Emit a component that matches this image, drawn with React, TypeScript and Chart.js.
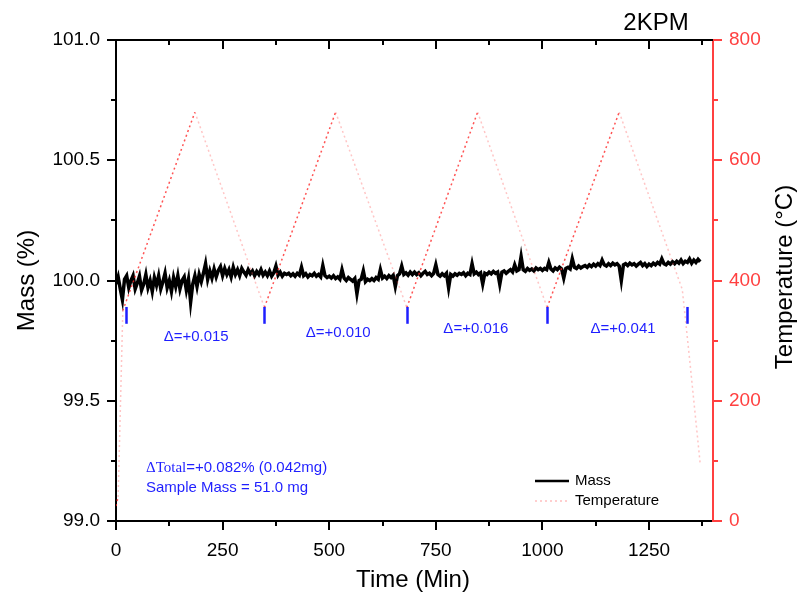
import React, { useEffect, useRef } from "react";
import { Chart, registerables } from "chart.js";
Chart.register(...registerables);

// ---------- data ----------
const MASS_START = 0; // min
const MASS_STEP = 5; // min between samples
const MASS_VALUES = [
  99.985, 100.015, 99.965, 99.92, 100.005, 100.02, 99.97, 100.0, 100.02, 99.965, 99.99, 100.018, 99.96, 99.985, 100.025, 99.97, 100.0, 99.955, 100.012, 99.98,
  100.02, 99.965, 99.995, 100.03, 99.97, 100.0, 99.955, 100.012, 99.975, 100.02, 99.965, 100.0, 100.015, 99.96, 100.005, 99.91, 99.985, 100.02, 99.975, 100.025,
  99.995, 100.03, 100.07, 100.005, 100.04, 100.01, 100.048, 100.015, 100.042, 100.058, 100.02, 100.05, 100.025, 100.045, 100.015, 100.055, 100.025, 100.045, 100.02, 100.05,
  100.035, 100.022, 100.045, 100.028, 100.04, 100.02, 100.038, 100.025, 100.045, 100.022, 100.035, 100.02, 100.04, 100.018, 100.032, 100.06, 100.022, 100.035, 100.018, 100.03,
  100.025, 100.03, 100.02, 100.028, 100.018, 100.03, 100.022, 100.055, 100.02, 100.028, 100.015, 100.025, 100.02, 100.03, 100.018, 100.025, 100.015, 100.062, 100.02, 100.012,
  100.018, 100.01, 100.02, 100.008, 100.015, 100.005, 100.045, 100.01, 100.0, 100.012, 100.005, 99.998, 100.008, 99.945, 100.0, 100.005, 100.04, 99.995, 100.005, 100.0,
  100.008, 100.0, 100.012, 100.005, 100.045, 100.01, 100.018, 100.008, 100.02, 100.012, 100.022, 99.975, 100.02, 100.028, 100.06, 100.025, 100.032, 100.022, 100.035, 100.025,
  100.035, 100.025, 100.032, 100.02, 100.03, 100.038, 100.025, 100.03, 100.02, 100.03, 100.065, 100.025, 100.018, 100.028, 100.02, 100.03, 99.97, 100.025, 100.018, 100.028,
  100.022, 100.03, 100.025, 100.032, 100.02, 100.03, 100.025, 100.07, 100.028, 100.035, 100.025, 100.032, 99.985, 100.03, 100.025, 100.035, 100.028, 100.038, 100.03, 100.035,
  99.985, 100.035, 100.04, 100.03, 100.038, 100.045, 100.035, 100.065, 100.04, 100.045, 100.1, 100.045, 100.038, 100.05, 100.042, 100.048, 100.04, 100.052, 100.045, 100.05,
  100.042, 100.05, 100.045, 100.075, 100.048, 100.04, 100.052, 100.045, 100.055, 100.048, 100.01, 100.05, 100.055, 100.048, 100.09, 100.055, 100.05, 100.06, 100.052, 100.058,
  100.062, 100.055, 100.065, 100.058, 100.068, 100.06, 100.07, 100.062, 100.085, 100.065, 100.06, 100.07, 100.062, 100.072, 100.065, 100.07, 100.06, 100.0, 100.065, 100.07,
  100.062, 100.072, 100.065, 100.07, 100.06, 100.068, 100.075, 100.062, 100.07, 100.058, 100.068, 100.062, 100.072, 100.065, 100.075, 100.068, 100.09, 100.07, 100.065, 100.075,
  100.068, 100.078, 100.07, 100.08, 100.072, 100.085, 100.07, 100.08, 100.075, 100.09, 100.072, 100.085, 100.075, 100.088, 100.078,
];

const TEMP_TIME = [0, 5, 16, 185, 348, 515, 682, 848, 1011, 1180, 1328, 1345, 1370];
const TEMP_VALUES = [25, 40, 350, 680, 355, 680, 355, 680, 355, 680, 385, 270, 95];

const X_TICKS = [0, 250, 500, 750, 1000, 1250];
const X_MINOR = [125, 375, 625, 875, 1125, 1375];
const MASS_TICKS = [99, 99.5, 100, 100.5, 101];
const MASS_MINOR = [99.25, 99.75, 100.25, 100.75];
const TEMP_TICKS = [0, 200, 400, 600, 800];
const TEMP_MINOR = [100, 300, 500, 700];

const STEP_MARK_TIMES = [23, 348, 682, 1011, 1339];
const STEP_MARK_RANGE = [99.82, 99.89];
const DELTA_LABELS = ["Δ=+0.015", "Δ=+0.010", "Δ=+0.016", "Δ=+0.041"];
const DELTA_TIMES = [188, 521, 844, 1189];
const DELTA_MASS = [99.765, 99.782, 99.8, 99.798];

const TITLE = "2KPM";
const X_TITLE = "Time (Min)";
const Y_TITLE = "Mass (%)";
const Y1_TITLE = "Temperature (°C)";
const TOTAL_PREFIX = "ΔTotal";
const TOTAL_REST = "=+0.082% (0.042mg)";
const SAMPLE_TEXT = "Sample Mass = 51.0 mg";
const LEGEND_LABELS = ["Mass", "Temperature"];

const SANS = "Arial, 'Liberation Sans', Helvetica, sans-serif";
const SERIF = "'Times New Roman', 'Liberation Serif', serif";
const RED = "#ff4040";
const BLUE = "#1f1fff";
const TEMP_DARK = "rgba(255,40,40,0.8)";
const TEMP_PALE = "rgba(255,90,90,0.35)";

const decorPlugin = {
  id: "decor",
  afterDraw(chart: any) {
    const ctx = chart.ctx as CanvasRenderingContext2D;
    const { left, right, top, bottom } = chart.chartArea;
    const xs = chart.scales.x;
    const ys = chart.scales.y;
    const y1 = chart.scales.y1;
    ctx.save();
    ctx.lineCap = "butt";
    // top border
    ctx.strokeStyle = "#000";
    ctx.lineWidth = 2;
    ctx.beginPath();
    ctx.moveTo(left - 1, top);
    ctx.lineTo(right, top);
    ctx.stroke();

    const MAJ = 9, MIN = 5;
    const xTick = (v: number, len: number) => {
      const px = Math.round(xs.getPixelForValue(v));
      ctx.beginPath();
      ctx.moveTo(px, bottom);
      ctx.lineTo(px, bottom + len);
      ctx.moveTo(px, top);
      ctx.lineTo(px, top + len);
      ctx.stroke();
    };
    X_TICKS.forEach((v) => xTick(v, MAJ));
    X_MINOR.forEach((v) => { if (v <= xs.max) xTick(v, MIN); });
    const yTick = (v: number, len: number) => {
      const py = Math.round(ys.getPixelForValue(v));
      ctx.beginPath();
      ctx.moveTo(left, py);
      ctx.lineTo(left - len, py);
      ctx.stroke();
    };
    MASS_TICKS.forEach((v) => yTick(v, MAJ));
    MASS_MINOR.forEach((v) => yTick(v, MIN));
    ctx.strokeStyle = RED;
    const y1Tick = (v: number, len: number) => {
      const py = Math.round(y1.getPixelForValue(v));
      ctx.beginPath();
      ctx.moveTo(right, py);
      ctx.lineTo(right + len, py);
      ctx.stroke();
    };
    TEMP_TICKS.forEach((v) => y1Tick(v, MAJ));
    TEMP_MINOR.forEach((v) => y1Tick(v, MIN));

    // titles
    ctx.fillStyle = "#000";
    ctx.font = `24px ${SANS}`;
    ctx.textAlign = "center";
    ctx.textBaseline = "middle";
    ctx.fillText(TITLE, 656, 23);
    ctx.fillText(X_TITLE, 413, 580);
    ctx.save();
    ctx.translate(27, (top + bottom) / 2);
    ctx.rotate(-Math.PI / 2);
    ctx.fillText(Y_TITLE, 0, 0);
    ctx.restore();
    ctx.save();
    ctx.translate(785, 277);
    ctx.rotate(-Math.PI / 2);
    ctx.fillText(Y1_TITLE, 0, 0);
    ctx.restore();

    // step markers
    ctx.strokeStyle = BLUE;
    ctx.lineWidth = 2.5;
    STEP_MARK_TIMES.forEach((t) => {
      const px = Math.round(xs.getPixelForValue(t)) + 0.5;
      ctx.beginPath();
      ctx.moveTo(px, ys.getPixelForValue(STEP_MARK_RANGE[1]));
      ctx.lineTo(px, ys.getPixelForValue(STEP_MARK_RANGE[0]));
      ctx.stroke();
    });
    // delta labels
    ctx.fillStyle = BLUE;
    ctx.font = `15px ${SANS}`;
    ctx.textAlign = "center";
    DELTA_LABELS.forEach((s, i) => {
      ctx.fillText(s, xs.getPixelForValue(DELTA_TIMES[i]), ys.getPixelForValue(DELTA_MASS[i]));
    });
    // total text
    ctx.textAlign = "left";
    ctx.font = `15px ${SERIF}`;
    ctx.fillText(TOTAL_PREFIX, 146, 468);
    const w = ctx.measureText(TOTAL_PREFIX).width;
    ctx.font = `15px ${SANS}`;
    ctx.fillText(TOTAL_REST, 146 + w, 468);
    ctx.fillText(SAMPLE_TEXT, 146, 488);

    // legend
    ctx.strokeStyle = "#000";
    ctx.lineWidth = 2.5;
    ctx.beginPath();
    ctx.moveTo(535, 481);
    ctx.lineTo(569, 481);
    ctx.stroke();
    ctx.strokeStyle = "rgba(255,90,90,0.4)";
    ctx.lineWidth = 1.5;
    ctx.setLineDash([2, 3]);
    ctx.beginPath();
    ctx.moveTo(535, 501);
    ctx.lineTo(569, 501);
    ctx.stroke();
    ctx.setLineDash([]);
    ctx.fillStyle = "#000";
    ctx.font = `15px ${SANS}`;
    ctx.fillText(LEGEND_LABELS[0], 575, 481);
    ctx.fillText(LEGEND_LABELS[1], 575, 501);
    ctx.restore();
  },
};

export default function App() {
  const ref = useRef<HTMLCanvasElement | null>(null);
  useEffect(() => {
    document.body.style.margin = "0";
    const massData = MASS_VALUES.map((v, i) => ({ x: MASS_START + i * MASS_STEP, y: v }));
    const tempData = TEMP_TIME.map((t, i) => ({ x: t, y: TEMP_VALUES[i] }));
    const chart = new Chart(ref.current as HTMLCanvasElement, {
      type: "line",
      data: {
        datasets: [
          {
            label: "Temperature",
            data: tempData,
            yAxisID: "y1",
            borderColor: TEMP_DARK,
            borderWidth: 1.5,
            borderDash: [2, 3],
            pointRadius: 0,
            tension: 0,
            order: 0,
            segment: {
              borderColor: (c: any) => {
                const dy = c.p1.parsed.y - c.p0.parsed.y;
                const dx = c.p1.parsed.x - c.p0.parsed.x;
                const slope = dy / dx;
                return slope > 0 && slope < 5 ? TEMP_DARK : TEMP_PALE;
              },
            },
          } as any,
          {
            label: "Mass",
            data: massData,
            yAxisID: "y",
            borderColor: "#000",
            borderWidth: 3.5,
            pointRadius: 0,
            tension: 0,
            order: 1,
          },
        ],
      },
      options: {
        responsive: false,
        animation: false,
        devicePixelRatio: 1,
        layout: { padding: { top: 40, left: 0, right: 0, bottom: 0 } },
        plugins: { legend: { display: false }, tooltip: { enabled: false } },
        scales: {
          x: {
            type: "linear",
            position: "bottom",
            min: 0,
            max: 1400,
            afterFit: (s: any) => { s.height = 78; },
            afterBuildTicks: (s: any) => { s.ticks = X_TICKS.map((v) => ({ value: v })); },
            grid: { display: false },
            border: { display: true, color: "#000", width: 2 },
            ticks: {
              font: { size: 19, family: SANS },
              color: "#000",
              padding: 10,
              maxRotation: 0,
              autoSkip: false,
              callback: (v: any) => String(v),
            },
          },
          y: {
            type: "linear",
            position: "left",
            min: 99,
            max: 101,
            afterFit: (s: any) => { s.width = 116; },
            afterBuildTicks: (s: any) => { s.ticks = MASS_TICKS.map((v) => ({ value: v })); },
            grid: { display: false },
            border: { display: true, color: "#000", width: 2 },
            ticks: {
              font: { size: 19, family: SANS },
              color: "#000",
              padding: 8,
              callback: (v: any) => Number(v).toFixed(1),
            },
          },
          y1: {
            type: "linear",
            position: "right",
            min: 0,
            max: 800,
            afterFit: (s: any) => { s.width = 85; },
            afterBuildTicks: (s: any) => { s.ticks = TEMP_TICKS.map((v) => ({ value: v })); },
            grid: { display: false },
            border: { display: true, color: RED, width: 2 },
            ticks: {
              font: { size: 19, family: SANS },
              color: RED,
              padding: 8,
              callback: (v: any) => String(v),
            },
          },
        },
      },
      plugins: [decorPlugin],
    });
    return () => chart.destroy();
  }, []);
  return (
    <div style={{ position: "absolute", left: 0, top: 0, width: 798, height: 599 }}>
      <canvas ref={ref} width={798} height={599} />
    </div>
  );
}
